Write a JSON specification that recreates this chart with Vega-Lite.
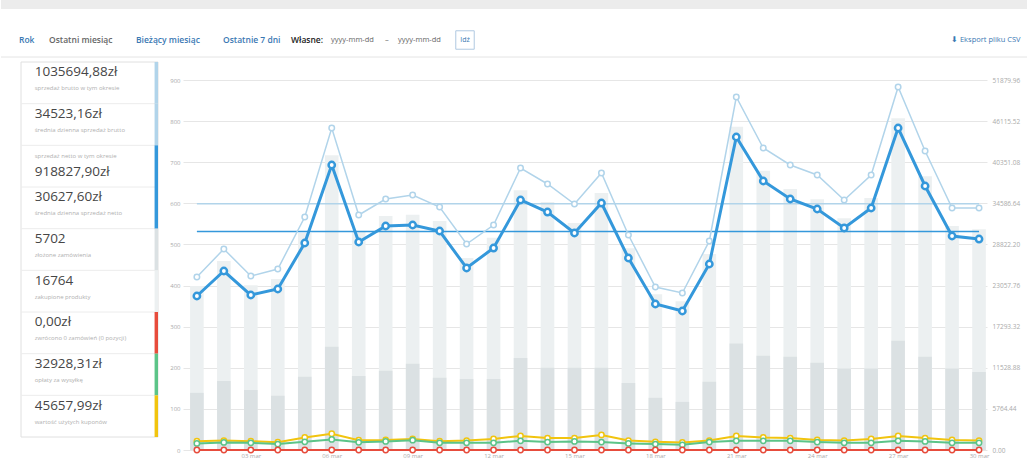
{
  "$schema": "https://vega.github.io/schema/vega-lite/v6.json",
  "padding": 0,
  "background": "white",
  "bounds": "flush",
  "spacing": 0,
  "config": {"view": {"stroke": null}, "font": "Open Sans", "axis": {"labelFont": "Open Sans"}},
  "datasets": {
    "days": [
      {"day":1,"items":399,"orders":139,"gross":24258,"net":21594,"shipping":926,"coupons":1226,"refunds":0},
      {"day":2,"items":460,"orders":168,"gross":28184,"net":25099,"shipping":1064,"coupons":1318,"refunds":0},
      {"day":3,"items":401,"orders":146,"gross":24398,"net":21734,"shipping":1009,"coupons":1226,"refunds":0},
      {"day":4,"items":416,"orders":132,"gross":25380,"net":22575,"shipping":829,"coupons":1094,"refunds":0},
      {"day":5,"items":528,"orders":178,"gross":32671,"net":29026,"shipping":1147,"coupons":1753,"refunds":0},
      {"day":6,"items":717,"orders":251,"gross":45151,"net":39963,"shipping":1479,"coupons":2280,"refunds":0},
      {"day":7,"items":530,"orders":180,"gross":32952,"net":29166,"shipping":1078,"coupons":1384,"refunds":0},
      {"day":8,"items":569,"orders":193,"gross":35195,"net":31409,"shipping":1202,"coupons":1410,"refunds":0},
      {"day":9,"items":572,"orders":210,"gross":35756,"net":31550,"shipping":1382,"coupons":1542,"refunds":0},
      {"day":10,"items":557,"orders":176,"gross":34073,"net":30708,"shipping":1009,"coupons":1226,"refunds":0},
      {"day":11,"items":467,"orders":173,"gross":28885,"net":25520,"shipping":1009,"coupons":1318,"refunds":0},
      {"day":12,"items":516,"orders":173,"gross":31550,"net":28324,"shipping":1009,"coupons":1542,"refunds":0},
      {"day":13,"items":632,"orders":224,"gross":39542,"net":35055,"shipping":1285,"coupons":1977,"refunds":0},
      {"day":14,"items":603,"orders":200,"gross":37299,"net":33372,"shipping":1106,"coupons":1674,"refunds":0},
      {"day":15,"items":552,"orders":200,"gross":34494,"net":30428,"shipping":1202,"coupons":1674,"refunds":0},
      {"day":16,"items":625,"orders":200,"gross":38841,"net":34634,"shipping":1106,"coupons":2109,"refunds":0},
      {"day":17,"items":491,"orders":163,"gross":30147,"net":26922,"shipping":926,"coupons":1318,"refunds":0},
      {"day":18,"items":379,"orders":127,"gross":22856,"net":20472,"shipping":829,"coupons":1147,"refunds":0},
      {"day":19,"items":362,"orders":117,"gross":22015,"net":19491,"shipping":732,"coupons":1054,"refunds":0},
      {"day":20,"items":477,"orders":166,"gross":29306,"net":26081,"shipping":1106,"coupons":1318,"refunds":0},
      {"day":21,"items":786,"orders":259,"gross":49498,"net":43889,"shipping":1285,"coupons":1977,"refunds":0},
      {"day":22,"items":679,"orders":229,"gross":42346,"net":37719,"shipping":1285,"coupons":1753,"refunds":0},
      {"day":23,"items":635,"orders":227,"gross":39963,"net":35195,"shipping":1285,"coupons":1674,"refunds":0},
      {"day":24,"items":610,"orders":212,"gross":38561,"net":33793,"shipping":1106,"coupons":1410,"refunds":0},
      {"day":25,"items":564,"orders":198,"gross":35055,"net":31129,"shipping":1009,"coupons":1318,"refunds":0},
      {"day":26,"items":613,"orders":198,"gross":38561,"net":33933,"shipping":1009,"coupons":1542,"refunds":0},
      {"day":27,"items":807,"orders":266,"gross":50900,"net":45151,"shipping":1285,"coupons":1977,"refunds":0},
      {"day":28,"items":666,"orders":227,"gross":41926,"net":37018,"shipping":1202,"coupons":1674,"refunds":0},
      {"day":29,"items":545,"orders":198,"gross":33933,"net":30007,"shipping":1009,"coupons":1410,"refunds":0},
      {"day":30,"items":537,"orders":190,"gross":33933,"net":29586,"shipping":1009,"coupons":1318,"refunds":0}
    ],
    "averages": [
      {"series":"gross","day":1,"value":34523.16},
      {"series":"gross","day":30,"value":34523.16},
      {"series":"net","day":1,"value":30627.60},
      {"series":"net","day":30,"value":30627.60}
    ],
    "stats": [
      {"box":1,"metric":"gross"},{"box":2,"metric":"gross_avg"},{"box":3,"metric":"net"},
      {"box":4,"metric":"net_avg"},{"box":5,"metric":"orders"},{"box":6,"metric":"items"},
      {"box":7,"metric":"refunds"},{"box":8,"metric":"shipping"},{"box":9,"metric":"coupons"}
    ],
    "statLines": [
      {"box":1,"line":1,"kind":"value","text":"1035694,88zł"},
      {"box":1,"line":2,"kind":"caption","text":"sprzedaż brutto w tym okresie"},
      {"box":2,"line":1,"kind":"value","text":"34523,16zł"},
      {"box":2,"line":2,"kind":"caption","text":"średnia dzienna sprzedaż brutto"},
      {"box":3,"line":1,"kind":"caption","text":"sprzedaż netto w tym okresie"},
      {"box":3,"line":2,"kind":"value","text":"918827,90zł"},
      {"box":4,"line":1,"kind":"value","text":"30627,60zł"},
      {"box":4,"line":2,"kind":"caption","text":"średnia dzienna sprzedaż netto"},
      {"box":5,"line":1,"kind":"value","text":"5702"},
      {"box":5,"line":2,"kind":"caption","text":"złożone zamówienia"},
      {"box":6,"line":1,"kind":"value","text":"16764"},
      {"box":6,"line":2,"kind":"caption","text":"zakupione produkty"},
      {"box":7,"line":1,"kind":"value","text":"0,00zł"},
      {"box":7,"line":2,"kind":"caption","text":"zwrócono 0 zamówień (0 pozycji)"},
      {"box":8,"line":1,"kind":"value","text":"32928,31zł"},
      {"box":8,"line":2,"kind":"caption","text":"opłaty za wysyłkę"},
      {"box":9,"line":1,"kind":"value","text":"45657,99zł"},
      {"box":9,"line":2,"kind":"caption","text":"wartość użytych kuponów"}
    ],
    "toolbar": [
      {"idx":0,"kind":"link","text":"Rok"},
      {"idx":1,"kind":"active","text":"Ostatni miesiąc"},
      {"idx":2,"kind":"link","text":"Bieżący miesiąc"},
      {"idx":3,"kind":"link","text":"Ostatnie 7 dni"},
      {"idx":4,"kind":"label","text":"Własne:"},
      {"idx":5,"kind":"input","text":"yyyy-mm-dd"},
      {"idx":6,"kind":"input","text":"–"},
      {"idx":7,"kind":"input","text":"yyyy-mm-dd"},
      {"idx":8,"kind":"button","text":"Idź"},
      {"idx":9,"kind":"export","text":"⬇ Eksport pliku CSV"}
    ]
  },
  "vconcat": [
    {
      "width": 1027,
      "height": 62,
      "data": {"name": "toolbar"},
      "layer": [
        {
          "data": {"values": [{}]},
          "mark": {"type": "rect", "color": "#ececec"},
          "encoding": {
            "y": {"datum": 0, "type": "quantitative", "scale": {"domain": [0, 62], "range": [0, 62], "nice": false, "zero": false}, "axis": null},
            "y2": {"datum": 9}
          }
        },
        {
          "data": {"values": [{}]},
          "mark": {"type": "rule", "color": "#e4e4e4"},
          "encoding": {"y": {"datum": 57, "type": "quantitative"}}
        },
        {
          "transform": [{"filter": "datum.kind === 'link' || datum.kind === 'active' || datum.kind === 'label'"}],
          "mark": {"type": "text", "align": "left", "baseline": "middle", "fontSize": 8.5, "fontWeight": 600},
          "encoding": {
            "x": {"field": "idx", "type": "quantitative", "scale": {"domain": [0,1,2,3,4,5,6,7,8,9], "range": [18,48,135,222,290,330,384,397,464,950], "nice": false, "zero": false}, "axis": null},
            "y": {"datum": 40, "type": "quantitative"},
            "text": {"field": "text"},
            "color": {"condition": [{"test": "datum.kind === 'active'", "value": "#666666"}, {"test": "datum.kind === 'label'", "value": "#222222"}], "value": "#3a78b3"}
          }
        },
        {
          "transform": [{"filter": "datum.kind === 'input' || datum.kind === 'export'"}],
          "mark": {"type": "text", "align": "left", "baseline": "middle", "fontSize": 7.5},
          "encoding": {
            "x": {"field": "idx", "type": "quantitative"},
            "y": {"datum": 40, "type": "quantitative"},
            "text": {"field": "text"},
            "color": {"condition": {"test": "datum.kind === 'export'", "value": "#3a78b3"}, "value": "#666666"}
          }
        },
        {
          "transform": [{"filter": "datum.kind === 'button'"}],
          "mark": {"type": "point", "shape": "square", "size": 340, "filled": false, "stroke": "#8fb3d6", "strokeWidth": 1},
          "encoding": {
            "x": {"field": "idx", "type": "quantitative"},
            "y": {"datum": 40, "type": "quantitative"}
          }
        },
        {
          "transform": [{"filter": "datum.kind === 'button'"}],
          "mark": {"type": "text", "align": "center", "baseline": "middle", "fontSize": 7, "color": "#3a78b3"},
          "encoding": {
            "x": {"field": "idx", "type": "quantitative"},
            "y": {"datum": 40, "type": "quantitative"},
            "text": {"field": "text"}
          }
        }
      ]
    },
    {
      "bounds": "flush",
      "spacing": 25,
      "hconcat": [
        {
          "width": 157,
          "height": 375,
          "layer": [
            {
              "data": {"values": [{}]},
              "mark": {"type": "rect", "fill": "#ffffff", "stroke": "#e0e0e0", "strokeWidth": 1},
              "encoding": {
                "x": {"datum": 0, "type": "quantitative", "scale": {"domain": [0, 1], "range": [20, 157], "nice": false, "zero": false}, "axis": null},
                "x2": {"datum": 1}
              }
            },
            {
              "data": {"name": "stats"},
              "transform": [{"filter": "datum.box > 1"}],
              "mark": {"type": "rule", "color": "#ececec"},
              "encoding": {
                "y": {"field": "box", "type": "ordinal", "bandPosition": 0, "scale": {"paddingInner": 0, "paddingOuter": 0}, "axis": null},
                "x": {"datum": 0, "type": "quantitative"},
                "x2": {"datum": 1}
              }
            },
            {
              "data": {"name": "stats"},
              "mark": {"type": "rect"},
              "encoding": {
                "y": {"field": "box", "type": "ordinal", "axis": null},
                "x": {"datum": 0.975, "type": "quantitative"},
                "x2": {"datum": 1},
                "color": {
                  "field": "metric", "type": "nominal", "legend": null,
                  "scale": {
                    "domain": ["gross","gross_avg","net","net_avg","orders","items","refunds","shipping","coupons"],
                    "range": ["#b1d4ea","#b1d4ea","#3498db","#3498db","#dbe1e3","#ecf0f1","#e74c3c","#5cc488","#f1c40f"]
                  }
                }
              }
            },
            {
              "data": {"name": "statLines"},
              "transform": [{"filter": "datum.line === 1"}],
              "mark": {"type": "text", "align": "left", "baseline": "middle"},
              "encoding": {
                "y": {"field": "box", "type": "ordinal", "bandPosition": 0.25, "axis": null},
                "x": {"datum": 0.1, "type": "quantitative"},
                "text": {"field": "text"},
                "size": {"condition": {"test": "datum.kind === 'value'", "value": 13.5}, "value": 6},
                "color": {"condition": {"test": "datum.kind === 'value'", "value": "#464646"}, "value": "#b0b0b0"}
              }
            },
            {
              "data": {"name": "statLines"},
              "transform": [{"filter": "datum.line === 2"}],
              "mark": {"type": "text", "align": "left", "baseline": "middle"},
              "encoding": {
                "y": {"field": "box", "type": "ordinal", "bandPosition": 0.63, "axis": null},
                "x": {"datum": 0.1, "type": "quantitative"},
                "text": {"field": "text"},
                "size": {"condition": {"test": "datum.kind === 'value'", "value": 13.5}, "value": 6},
                "color": {"condition": {"test": "datum.kind === 'value'", "value": "#464646"}, "value": "#b0b0b0"}
              }
            }
          ],
          "resolve": {"scale": {"color": "independent"}}
        },
        {
          "width": 804,
          "height": 388,
          "data": {"name": "days"},
          "encoding": {
            "x": {
              "field": "day", "type": "quantitative",
              "scale": {"domain": [0.6705, 30.11], "nice": false, "zero": false},
              "axis": {
                "values": [3,6,9,12,15,18,21,24,27,30],
                "labelExpr": "(datum.value < 10 ? '0' : '') + datum.value + ' mar'",
                "grid": false, "domain": false, "ticks": false,
                "labelFontSize": 6, "labelColor": "#aaaaaa", "labelPadding": 2, "title": null
              }
            }
          },
          "layer": [
            {
              "layer": [
                {
                  "data": {"values": [{}]},
                  "mark": {"type": "rect", "fillOpacity": 0, "stroke": "#e6e6e6", "strokeWidth": 1, "cornerRadius": 3, "clip": false},
                  "encoding": {
                    "x": {"datum": -0.135, "type": "quantitative", "scale": {"domain": [0.6705, 30.11], "nice": false, "zero": false}},
                    "x2": {"datum": 31.43},
                    "y": {"datum": -24.3, "type": "quantitative", "scale": {"domain": [0, 943.8], "nice": false, "zero": false}},
                    "y2": {"datum": 941.4}
                  }
                },
                {
                  "mark": {"type": "bar", "color": "#ecf0f1", "width": 13.6},
                  "encoding": {
                    "y": {
                      "field": "items", "type": "quantitative",
                      "scale": {"domain": [0, 943.8], "nice": false, "zero": false},
                      "axis": {
                        "orient": "left", "values": [0,100,200,300,400,500,600,700,800,900],
                        "grid": true, "gridColor": "#e6e6e6", "domain": false, "ticks": false,
                        "labelFontSize": 6, "labelColor": "#aaaaaa", "labelPadding": 3, "title": null
                      }
                    }
                  }
                },
                {
                  "mark": {"type": "bar", "color": "#dbe1e3", "width": 13.6},
                  "encoding": {
                    "y": {"field": "orders", "type": "quantitative", "scale": {"domain": [0, 943.8], "nice": false, "zero": false}}
                  }
                }
              ]
            },
            {
              "layer": [
                {
                  "data": {"name": "averages"},
                  "mark": {"type": "line", "strokeWidth": 1.5},
                  "encoding": {
                    "y": {
                      "field": "value", "type": "quantitative",
                      "scale": {"domain": [0, 54406], "nice": false, "zero": false},
                      "axis": {
                        "orient": "right",
                        "values": [0, 5764.44, 11528.88, 17293.32, 23057.76, 28822.2, 34586.64, 40351.08, 46115.52, 51879.96],
                        "format": ".2f", "grid": false, "domain": false, "ticks": false,
                        "labelFontSize": 6.5, "labelColor": "#aaaaaa", "labelPadding": 5, "title": null
                      }
                    },
                    "detail": {"field": "series"},
                    "color": {
                      "field": "series", "type": "nominal", "legend": null,
                      "scale": {"domain": ["gross", "net"], "range": ["#b1d4ea", "#3498db"]}
                    }
                  }
                },
                {
                  "mark": {"type": "line", "color": "#f1c40f", "strokeWidth": 2, "point": {"filled": false, "fill": "white", "stroke": "#f1c40f", "size": 28, "strokeWidth": 1.5}},
                  "encoding": {"y": {"field": "coupons", "type": "quantitative", "scale": {"domain": [0, 54406], "nice": false, "zero": false}}}
                },
                {
                  "mark": {"type": "line", "color": "#5cc488", "strokeWidth": 2, "point": {"filled": false, "fill": "white", "stroke": "#5cc488", "size": 28, "strokeWidth": 1.5}},
                  "encoding": {"y": {"field": "shipping", "type": "quantitative", "scale": {"domain": [0, 54406], "nice": false, "zero": false}}}
                },
                {
                  "mark": {"type": "line", "color": "#e74c3c", "strokeWidth": 2, "point": {"filled": false, "fill": "white", "stroke": "#e74c3c", "size": 28, "strokeWidth": 1.5}},
                  "encoding": {"y": {"field": "refunds", "type": "quantitative", "scale": {"domain": [0, 54406], "nice": false, "zero": false}}}
                },
                {
                  "mark": {"type": "line", "color": "#b1d4ea", "strokeWidth": 1.5, "point": {"filled": false, "fill": "white", "stroke": "#b1d4ea", "size": 30, "strokeWidth": 1.5}},
                  "encoding": {"y": {"field": "gross", "type": "quantitative", "scale": {"domain": [0, 54406], "nice": false, "zero": false}}}
                },
                {
                  "mark": {"type": "line", "color": "#3498db", "strokeWidth": 3, "point": {"filled": false, "fill": "white", "stroke": "#3498db", "size": 40, "strokeWidth": 2.5}},
                  "encoding": {"y": {"field": "net", "type": "quantitative", "scale": {"domain": [0, 54406], "nice": false, "zero": false}}}
                }
              ]
            }
          ],
          "resolve": {"scale": {"y": "independent", "color": "independent"}}
        }
      ]
    }
  ]
}
